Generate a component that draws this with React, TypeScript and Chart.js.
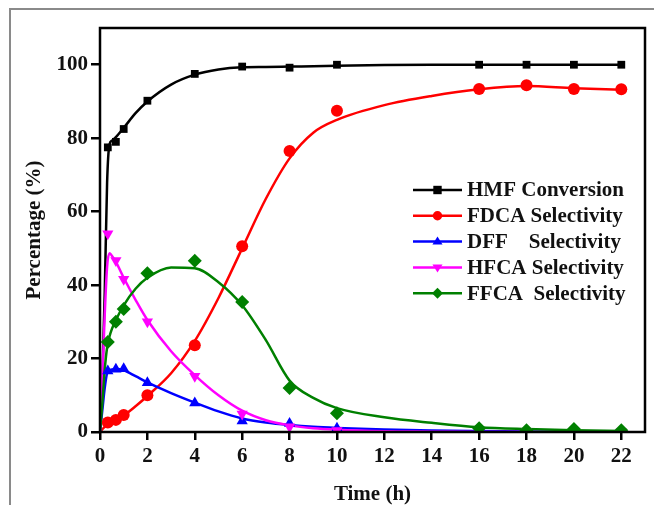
import React, { useEffect, useRef } from "react";
import { Chart, registerables } from "chart.js";

Chart.register(...registerables);

// Measured sampling times (h)
const times = [0.33, 0.67, 1, 2, 4, 6, 8, 10, 16, 18, 20, 22];
const hmfPts = [77.5, 79, 82.5, 90.2, 97.5, 99.5, 99.2, 100, 100, 100, 100, 100];
const fdcaPts = [2.6, 3.3, 4.6, 10, 23.6, 50.6, 76.5, 87.5, 93.4, 94.4, 93.4, 93.3];
const dffPts = [16.6, 17.1, 17.2, 13.4, 7.9, 3.0, 2.3, 1.0, 0.3, 0.2, 0.2, 0.2];
const hfcaPts = [54, 46.7, 41.6, 30, 15.2, 4.9, 1.4, 0.4, 0.1, 0.1, 0.1, 0.1];
const ffcaPts = [24.5, 30, 33.5, 43.2, 46.6, 35.4, 12, 5.1, 1.0, 0.5, 0.8, 0.5];

// Fitted curves
const curveT = [0, 0.1, 0.2, 0.3, 0.4, 0.5, 0.67, 1, 1.5, 2, 3, 4, 5, 6, 7, 8, 9, 10, 12, 14, 16, 18, 20, 22];
const hmfCurve = [0, 15, 38, 68, 78.3, 79.3, 80.3, 82.8, 86.8, 90, 94.6, 97.3, 98.7, 99.3, 99.4, 99.5, 99.6, 99.7, 99.9, 100, 100, 100, 100, 100];
const fdcaCurve = [0, 0.8, 1.4, 2, 2.4, 2.8, 3.3, 4.5, 7, 9.8, 16, 24.8, 36.5, 50, 63.5, 74.5, 81.5, 85, 89, 91.5, 93.3, 94.2, 93.6, 93.2];
const dffCurve = [0, 6, 12, 16, 16.8, 17, 17.2, 16.8, 15.2, 13.5, 10.6, 8, 5.6, 3.7, 2.6, 1.9, 1.4, 1.1, 0.7, 0.4, 0.25, 0.15, 0.1, 0.1];
const hfcaCurve = [0, 15, 32, 45, 48.7, 48, 46.3, 42, 36, 30.5, 22, 15.5, 10, 5.8, 3.2, 1.8, 1, 0.6, 0.2, 0.1, 0, 0, 0, 0];
const ffcaCurve = [0, 8, 17, 23, 26, 28, 30.5, 34.5, 39, 42, 44.8, 44.6, 40.8, 34.5, 25, 14, 9.3, 6.5, 4, 2.5, 1.3, 0.8, 0.5, 0.3];

const seriesNames = ["HMF Conversion", "FDCA Selectivity", "DFF    Selectivity", "HFCA Selectivity", "FFCA  Selectivity"];
const seriesColors = ["#000000", "#ff0000", "#0000ff", "#ff00ff", "#008000"];
const seriesMarkers = ["rect", "circle", "triangle", "triangle", "rectRot"];
const seriesRotation = [0, 0, 0, 180, 0];
const seriesRadius = [5.5, 6, 6.5, 6.5, 7];

const xTicks = [0, 2, 4, 6, 8, 10, 12, 14, 16, 18, 20, 22];
const yTicks = [0, 20, 40, 60, 80, 100];

const FONT = "'Liberation Serif', 'Times New Roman', serif";

export default function App() {
  const ref = useRef<HTMLCanvasElement | null>(null);
  useEffect(() => {
    if (!ref.current) return;
    const pts = [hmfPts, fdcaPts, dffPts, hfcaPts, ffcaPts];
    const curves = [hmfCurve, fdcaCurve, dffCurve, hfcaCurve, ffcaCurve];
    const datasets: any[] = [];
    curves.forEach((c, i) => {
      datasets.push({
        label: seriesNames[i] + " fit",
        data: curveT.map((t, k) => ({ x: t, y: c[k] })),
        borderColor: seriesColors[i],
        borderWidth: 2.5,
        pointRadius: 0,
        showLine: true,
        cubicInterpolationMode: "monotone",
        fill: false,
        order: 10 - i,
      });
    });
    pts.forEach((p, i) => {
      datasets.push({
        label: seriesNames[i],
        data: times.map((t, k) => ({ x: t, y: p[k] })),
        borderColor: seriesColors[i],
        backgroundColor: seriesColors[i],
        pointStyle: seriesMarkers[i],
        pointRotation: seriesRotation[i],
        pointRadius: seriesRadius[i],
        pointBorderWidth: 0,
        showLine: false,
        order: 5 - i,
      });
    });

    const framePlugin = {
      id: "frame",
      afterDatasetsDraw(chart: any) {
        const { ctx, chartArea: a } = chart;
        ctx.save();
        ctx.strokeStyle = "#000";
        ctx.lineWidth = 2.5;
        ctx.strokeRect(a.left, a.top, a.right - a.left, a.bottom - a.top);
        ctx.restore();
      },
    };

    const legendPlugin = {
      id: "customLegend",
      afterDraw(chart: any) {
        const { ctx } = chart;
        ctx.save();
        const x0 = 413, x1 = 462, tx = 467;
        seriesNames.forEach((name, i) => {
          const y = 190 + i * 25.8;
          ctx.strokeStyle = seriesColors[i];
          ctx.lineWidth = 2.5;
          ctx.beginPath();
          ctx.moveTo(x0, y);
          ctx.lineTo(x1, y);
          ctx.stroke();
          ctx.fillStyle = seriesColors[i];
          const cx = (x0 + x1) / 2;
          ctx.beginPath();
          const r = 4.2;
          if (seriesMarkers[i] === "rect") {
            ctx.rect(cx - r, y - r, 2 * r, 2 * r);
          } else if (seriesMarkers[i] === "circle") {
            ctx.arc(cx, y, r + 0.5, 0, Math.PI * 2);
          } else if (seriesMarkers[i] === "triangle") {
            const s = seriesRotation[i] === 180 ? -1 : 1;
            ctx.moveTo(cx, y - s * r * 1.2);
            ctx.lineTo(cx + r * 1.2, y + s * r * 0.7);
            ctx.lineTo(cx - r * 1.2, y + s * r * 0.7);
            ctx.closePath();
          } else {
            ctx.moveTo(cx, y - r * 1.3);
            ctx.lineTo(cx + r * 1.3, y);
            ctx.lineTo(cx, y + r * 1.3);
            ctx.lineTo(cx - r * 1.3, y);
            ctx.closePath();
          }
          ctx.fill();
          ctx.fillStyle = "#111";
          ctx.font = `bold 21px ${FONT}`;
          ctx.textBaseline = "middle";
          ctx.textAlign = "left";
          ctx.fillText(name, tx, y + 1);
        });
        ctx.restore();
      },
    };

    const chart = new Chart(ref.current, {
      type: "scatter",
      data: { datasets },
      plugins: [framePlugin, legendPlugin],
      options: {
        animation: false,
        responsive: false,
        layout: { padding: { top: 28, right: 9, left: 12, bottom: 0 } },
        plugins: { legend: { display: false }, tooltip: { enabled: false } },
        scales: {
          x: {
            type: "linear",
            min: 0,
            max: 23,
            afterBuildTicks: (s: any) => {
              s.ticks = xTicks.map((v) => ({ value: v }));
            },
            afterFit: (s: any) => {
              s.height = 73;
            },
            grid: { drawOnChartArea: false, drawTicks: true, tickLength: 8, color: "#000", lineWidth: 2.5 },
            border: { display: false },
            ticks: { color: "#111", font: { family: FONT, size: 21, weight: "bold" }, padding: 4, maxRotation: 0, autoSkip: false },
            title: { display: true, text: "Time (h)", color: "#111", font: { family: FONT, size: 21, weight: "bold" }, padding: { top: 0, bottom: -2 } },
          },
          y: {
            type: "linear",
            min: 0,
            max: 110,
            afterBuildTicks: (s: any) => {
              s.ticks = yTicks.map((v) => ({ value: v }));
            },
            afterFit: (s: any) => {
              s.width = 88;
            },
            grid: { drawOnChartArea: false, drawTicks: true, tickLength: 9, color: "#000", lineWidth: 2.5 },
            border: { display: false },
            ticks: { color: "#111", font: { family: FONT, size: 21, weight: "bold" }, padding: 3 },
            title: { display: true, text: "Percentage (%)", color: "#111", font: { family: FONT, size: 21, weight: "bold" }, padding: { top: 10, bottom: 0 } },
          },
        },
      } as any,
    });
    return () => chart.destroy();
  }, []);

  return (
    <div style={{ position: "fixed", left: 0, top: 0, width: 654, height: 505, background: "#fff" }}>
      <div style={{ position: "absolute", left: 9, top: 8, right: -10, bottom: -10, borderTop: "2px solid #8a8a8a", borderLeft: "2px solid #8a8a8a" }} />
      <canvas ref={ref} width={654} height={505} style={{ position: "absolute", left: 0, top: 0, width: 654, height: 505 }} />
    </div>
  );
}
